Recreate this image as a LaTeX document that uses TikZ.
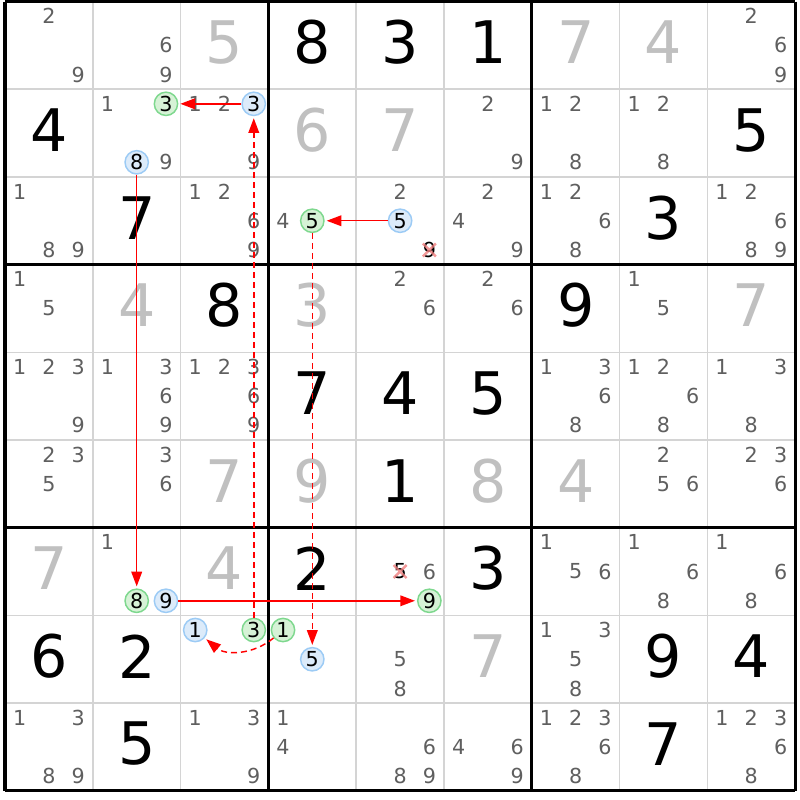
\documentclass[tikz,border=0pt]{standalone}
\usepackage{fontspec}
\setmainfont{DejaVu Sans}
\usetikzlibrary{arrows.meta}
\definecolor{candgray}{HTML}{5F5F5F}
\definecolor{solvgray}{HTML}{C0C0C0}
\definecolor{thingrid}{HTML}{D4D4D4}
\definecolor{gfill}{HTML}{D6F2D6}
\definecolor{gline}{HTML}{7ED88E}
\definecolor{bfill}{HTML}{DCEBFA}
\definecolor{bline}{HTML}{9CCBF5}
\definecolor{xpink}{HTML}{F08080}
\definecolor{linkred}{HTML}{FF0000}
\tikzset{
 cand/.style={inner sep=0pt, text=candgray, font=\fontsize{15.5}{15.5}\selectfont},
 gc/.style={cand, circle, text=black, fill=gfill, draw=gline, line width=1.1pt, minimum size=17.5pt},
 bc/.style={cand, circle, text=black, fill=bfill, draw=bline, line width=1.1pt, minimum size=17.5pt},
 givenst/.style={inner sep=0pt, font=\fontsize{44}{44}\selectfont, text=black},
 solvedst/.style={givenst, text=solvgray},
 arr/.style={draw=linkred, line width=1.1pt, -{Triangle[length=11pt,width=8pt]}, shorten >=1.5pt},
 dsh/.style={arr, dash pattern=on 4.5pt off 3pt},
 xmark/.style={draw=xpink, line width=1.8pt, opacity=0.8},
 thinline/.style={draw=thingrid, line width=1.1pt},
 thickline/.style={draw=black, line width=2.3pt},
}
\newcommand\cands[3]{\foreach \d in {#3}{%
  \pgfmathtruncatemacro\sx{mod(\d-1,3)}%
  \pgfmathtruncatemacro\sy{int((\d-1)/3)}%
  \node[cand] (r#1c#2d\d) at ({5+(#2-1)*87.8+(2*\sx+1)*87.8/6},{1.5+(#1-1)*87.7+(2*\sy+1)*87.7/6}) {\d};}}
\newcommand\ccand[4]{%
  \pgfmathtruncatemacro\sx{mod(#3-1,3)}%
  \pgfmathtruncatemacro\sy{int((#3-1)/3)}%
  \node[#4] (r#1c#2d#3) at ({5+(#2-1)*87.8+(2*\sx+1)*87.8/6},{1.5+(#1-1)*87.7+(2*\sy+1)*87.7/6}) {#3};}
\newcommand\xcand[3]{%
  \pgfmathtruncatemacro\sx{mod(#3-1,3)}%
  \pgfmathtruncatemacro\sy{int((#3-1)/3)}%
  \pgfmathsetmacro\px{5+(#2-1)*87.8+(2*\sx+1)*87.8/6}%
  \pgfmathsetmacro\py{1.5+(#1-1)*87.7+(2*\sy+1)*87.7/6}%
  \node[cand,text=black] (r#1c#2d#3) at (\px,\py) {#3};
  \draw[xmark] ({\px-6.5},{\py-6.5}) -- ({\px+6.5},{\py+6.5}) ({\px-6.5},{\py+6.5}) -- ({\px+6.5},{\py-6.5});}
\newcommand\given[3]{\node[givenst] (g#1c#2) at ({5+(#2-0.5)*87.8},{1.5+(#1-0.5)*87.7-3}) {#3};}
\newcommand\solved[3]{\node[solvedst] (s#1c#2) at ({5+(#2-0.5)*87.8},{1.5+(#1-0.5)*87.7-3}) {#3};}
\begin{document}
\begin{tikzpicture}[x=0.75pt,y=-0.75pt]
\useasboundingbox (0,0) rectangle (800,800);
\fill[white] (0,0) rectangle (800,800);
% thin grid
\foreach \i in {1,2,4,5,7,8}{
  \draw[thinline] ({5+\i*87.8},1.5) -- ({5+\i*87.8},790.8);
  \draw[thinline] (5,{1.5+\i*87.7}) -- (795.2,{1.5+\i*87.7});
}
\foreach \i in {0,3,6,9}{
  \draw[thickline] ({5+\i*87.8},1.5) -- ({5+\i*87.8},790.8);
  \draw[thickline] (5,{1.5+\i*87.7}) -- (795.2,{1.5+\i*87.7});
}
% row 1
\cands{1}{1}{2,9}
\cands{1}{2}{6,9}
\solved{1}{3}{5}
\given{1}{4}{8}
\given{1}{5}{3}
\given{1}{6}{1}
\solved{1}{7}{7}
\solved{1}{8}{4}
\cands{1}{9}{2,6,9}
% row 2
\given{2}{1}{4}
\cands{2}{2}{1,9}
\ccand{2}{2}{3}{gc}
\ccand{2}{2}{8}{bc}
\cands{2}{3}{1,2,9}
\ccand{2}{3}{3}{bc}
\solved{2}{4}{6}
\solved{2}{5}{7}
\cands{2}{6}{2,9}
\cands{2}{7}{1,2,8}
\cands{2}{8}{1,2,8}
\given{2}{9}{5}
% row 3
\cands{3}{1}{1,8,9}
\given{3}{2}{7}
\cands{3}{3}{1,2,6,9}
\cands{3}{4}{4}
\ccand{3}{4}{5}{gc}
\cands{3}{5}{2}
\ccand{3}{5}{5}{bc}
\xcand{3}{5}{9}
\cands{3}{6}{2,4,9}
\cands{3}{7}{1,2,6,8}
\given{3}{8}{3}
\cands{3}{9}{1,2,6,8,9}
% row 4
\cands{4}{1}{1,5}
\solved{4}{2}{4}
\given{4}{3}{8}
\solved{4}{4}{3}
\cands{4}{5}{2,6}
\cands{4}{6}{2,6}
\given{4}{7}{9}
\cands{4}{8}{1,5}
\solved{4}{9}{7}
% row 5
\cands{5}{1}{1,2,3,9}
\cands{5}{2}{1,3,6,9}
\cands{5}{3}{1,2,3,6,9}
\given{5}{4}{7}
\given{5}{5}{4}
\given{5}{6}{5}
\cands{5}{7}{1,3,6,8}
\cands{5}{8}{1,2,6,8}
\cands{5}{9}{1,3,8}
% row 6
\cands{6}{1}{2,3,5}
\cands{6}{2}{3,6}
\solved{6}{3}{7}
\solved{6}{4}{9}
\given{6}{5}{1}
\solved{6}{6}{8}
\solved{6}{7}{4}
\cands{6}{8}{2,5,6}
\cands{6}{9}{2,3,6}
% row 7
\solved{7}{1}{7}
\cands{7}{2}{1}
\ccand{7}{2}{8}{gc}
\ccand{7}{2}{9}{bc}
\solved{7}{3}{4}
\given{7}{4}{2}
\xcand{7}{5}{5}
\cands{7}{5}{6}
\ccand{7}{5}{9}{gc}
\given{7}{6}{3}
\cands{7}{7}{1,5,6}
\cands{7}{8}{1,6,8}
\cands{7}{9}{1,6,8}
% row 8
\given{8}{1}{6}
\given{8}{2}{2}
\ccand{8}{3}{1}{bc}
\ccand{8}{3}{3}{gc}
\ccand{8}{4}{1}{gc}
\ccand{8}{4}{5}{bc}
\cands{8}{5}{5,8}
\solved{8}{6}{7}
\cands{8}{7}{1,3,5,8}
\given{8}{8}{9}
\given{8}{9}{4}
% row 9
\cands{9}{1}{1,3,8,9}
\given{9}{2}{5}
\cands{9}{3}{1,3,9}
\cands{9}{4}{1,4}
\cands{9}{5}{6,8,9}
\cands{9}{6}{4,6,9}
\cands{9}{7}{1,2,3,6,8}
\given{9}{8}{7}
\cands{9}{9}{1,2,3,6,8}
% links
\draw[arr] (r2c3d3) -- (r2c2d3);
\draw[arr] (r3c5d5) -- (r3c4d5);
\draw[arr] (r2c2d8) -- (r7c2d8);
\draw[arr] (r7c2d9) -- (r7c5d9);
\draw[dsh] (r8c3d3) -- (r2c3d3);
\draw[dsh] (r3c4d5) -- (r8c4d5);
\draw[dsh] (r8c4d1) to[bend left=40] (r8c3d1);
\end{tikzpicture}
\end{document}
